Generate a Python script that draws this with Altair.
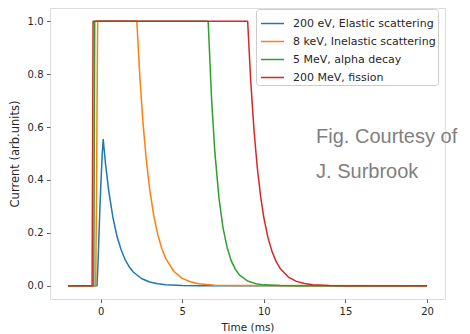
import altair as alt
import pandas as pd

series = ["200 eV, Elastic scattering", "8 keV, Inelastic scattering",
          "5 MeV, alpha decay", "200 MeV, fission"]
colors = ["#1f77b4", "#ff7f0e", "#2ca02c", "#d62728"]

blue_x = [-2.0, -0.22, -0.15, -0.1, -0.05, 0.0, 0.05, 0.1, 0.16, 0.3, 0.5, 0.75, 1.0,
          1.25, 1.5, 1.75, 2.0, 2.5, 3.0, 3.5, 4.0, 5.0, 6.0, 20.0]
blue_y = [0.0, 0.0, 0.1, 0.19, 0.28, 0.36, 0.43, 0.5, 0.553, 0.462, 0.358, 0.26, 0.188,
          0.137, 0.099, 0.072, 0.052, 0.0275, 0.0145, 0.0076, 0.004, 0.0011, 0.0003, 0.0]

orange_x = [-2.0, -0.3, -0.25, -0.2, -0.18, 2.22, 2.4, 2.6, 2.8, 3.0, 3.25, 3.5, 3.75,
            4.0, 4.5, 5.0, 5.5, 6.0, 7.0, 8.0, 20.0]
orange_y = [0.0, 0.0, 0.35, 0.85, 1.0, 1.0, 0.794, 0.614, 0.476, 0.368, 0.267, 0.194, 0.141,
            0.102, 0.054, 0.028, 0.015, 0.008, 0.002, 0.0006, 0.0]

green_x = [-2.0, -0.42, -0.36, 6.59, 6.8, 7.0, 7.25, 7.5, 7.75, 8.0, 8.25, 8.5, 9.0,
           9.5, 10.0, 11.0, 12.0, 20.0]
green_y = [0.0, 0.0, 1.0, 1.0, 0.705, 0.505, 0.333, 0.219, 0.145, 0.095, 0.063, 0.041, 0.018,
           0.008, 0.0034, 0.0006, 0.0001, 0.0]

red_x = [-2.0, -0.52, -0.46, 9.01, 9.2, 9.4, 9.6, 9.8, 10.0, 10.25, 10.5, 10.75, 11.0,
         11.5, 12.0, 12.5, 13.0, 14.0, 15.0, 20.0]
red_y = [0.0, 0.0, 1.0, 1.0, 0.771, 0.586, 0.446, 0.339, 0.258, 0.183, 0.130, 0.092, 0.0655,
         0.033, 0.0166, 0.0084, 0.0042, 0.0011, 0.0003, 0.0]

x_ticks = [0, 5, 10, 15, 20]
y_ticks = [0.0, 0.2, 0.4, 0.6, 0.8, 1.0]

note_lines = ["Fig. Courtesy of", "J. Surbrook"]
note_x = [13.2, 13.2]
note_y = [0.54, 0.408]

rows = []
for name, xs, ys in zip(series, [blue_x, orange_x, green_x, red_x],
                        [blue_y, orange_y, green_y, red_y]):
    for i, (a, b) in enumerate(zip(xs, ys)):
        rows.append({"series": name, "t": a, "current": b, "i": i})
df = pd.DataFrame(rows)
notes = pd.DataFrame({"label": note_lines, "t": note_x, "current": note_y})

xscale = alt.Scale(domain=[-3.1, 21.1], nice=False, zero=False)
yscale = alt.Scale(domain=[-0.05, 1.05], nice=False, zero=False)
cscale = alt.Scale(domain=series, range=colors)

xaxis = alt.Axis(values=x_ticks, title="Time (ms)", grid=False, domain=False,
                 tickSize=3.5, tickWidth=0.8, tickColor="#333", labelPadding=3.5,
                 labelFont="DejaVu Sans", labelFontSize=10, labelColor="#262626",
                 titleFont="DejaVu Sans", titleFontSize=10.5, titleFontWeight="normal",
                 titleColor="#262626", titlePadding=6)
yaxis = alt.Axis(values=y_ticks, format=".1f", title="Current (arb.units)", grid=False,
                 domain=False, tickSize=3.5, tickWidth=0.8, tickColor="#333",
                 labelPadding=3.5, labelFont="DejaVu Sans", labelFontSize=10,
                 labelColor="#262626", titleFont="DejaVu Sans", titleFontSize=11.5,
                 titleFontWeight="normal", titleColor="#262626", titlePadding=7)

legend = alt.Legend(title=None, orient="none", legendX=206, legendY=1,
                    symbolType="stroke", symbolSize=529, symbolStrokeWidth=1.5,
                    symbolOffset=2,
                    labelFont="DejaVu Sans", labelFontSize=11, labelColor="#262626",
                    labelOffset=8, rowPadding=-7, padding=2,
                    strokeColor="#cccccc", fillColor="rgba(255,255,255,0.8)",
                    cornerRadius=3)

layers = []
for k, name in enumerate(series):
    enc = dict(
        x=alt.X("t:Q", scale=xscale, axis=xaxis),
        y=alt.Y("current:Q", scale=yscale, axis=yaxis),
        color=alt.Color("series:N", scale=cscale,
                        legend=legend if k == 0 else None),
        order="i:Q",
    )
    layers.append(
        alt.Chart(df).transform_filter(alt.datum.series == name)
        .mark_line(strokeWidth=1.5, strokeJoin="round").encode(**enc)
    )

text = alt.Chart(notes).mark_text(align="left", baseline="alphabetic",
                                  font="Liberation Sans", fontSize=20,
                                  color="#808080").encode(
    x=alt.X("t:Q", scale=xscale),
    y=alt.Y("current:Q", scale=yscale),
    text="label:N",
)

chart = alt.layer(*layers, text).properties(
    width=395, height=291,
    autosize=alt.AutoSizeParams(type="none"),
    padding={"left": 42, "top": 0, "right": 17, "bottom": 35},
).configure_view(stroke="#333", strokeWidth=1).configure(background="white")

chart.save("out.html", embed_options={"renderer": "svg", "actions": False})
